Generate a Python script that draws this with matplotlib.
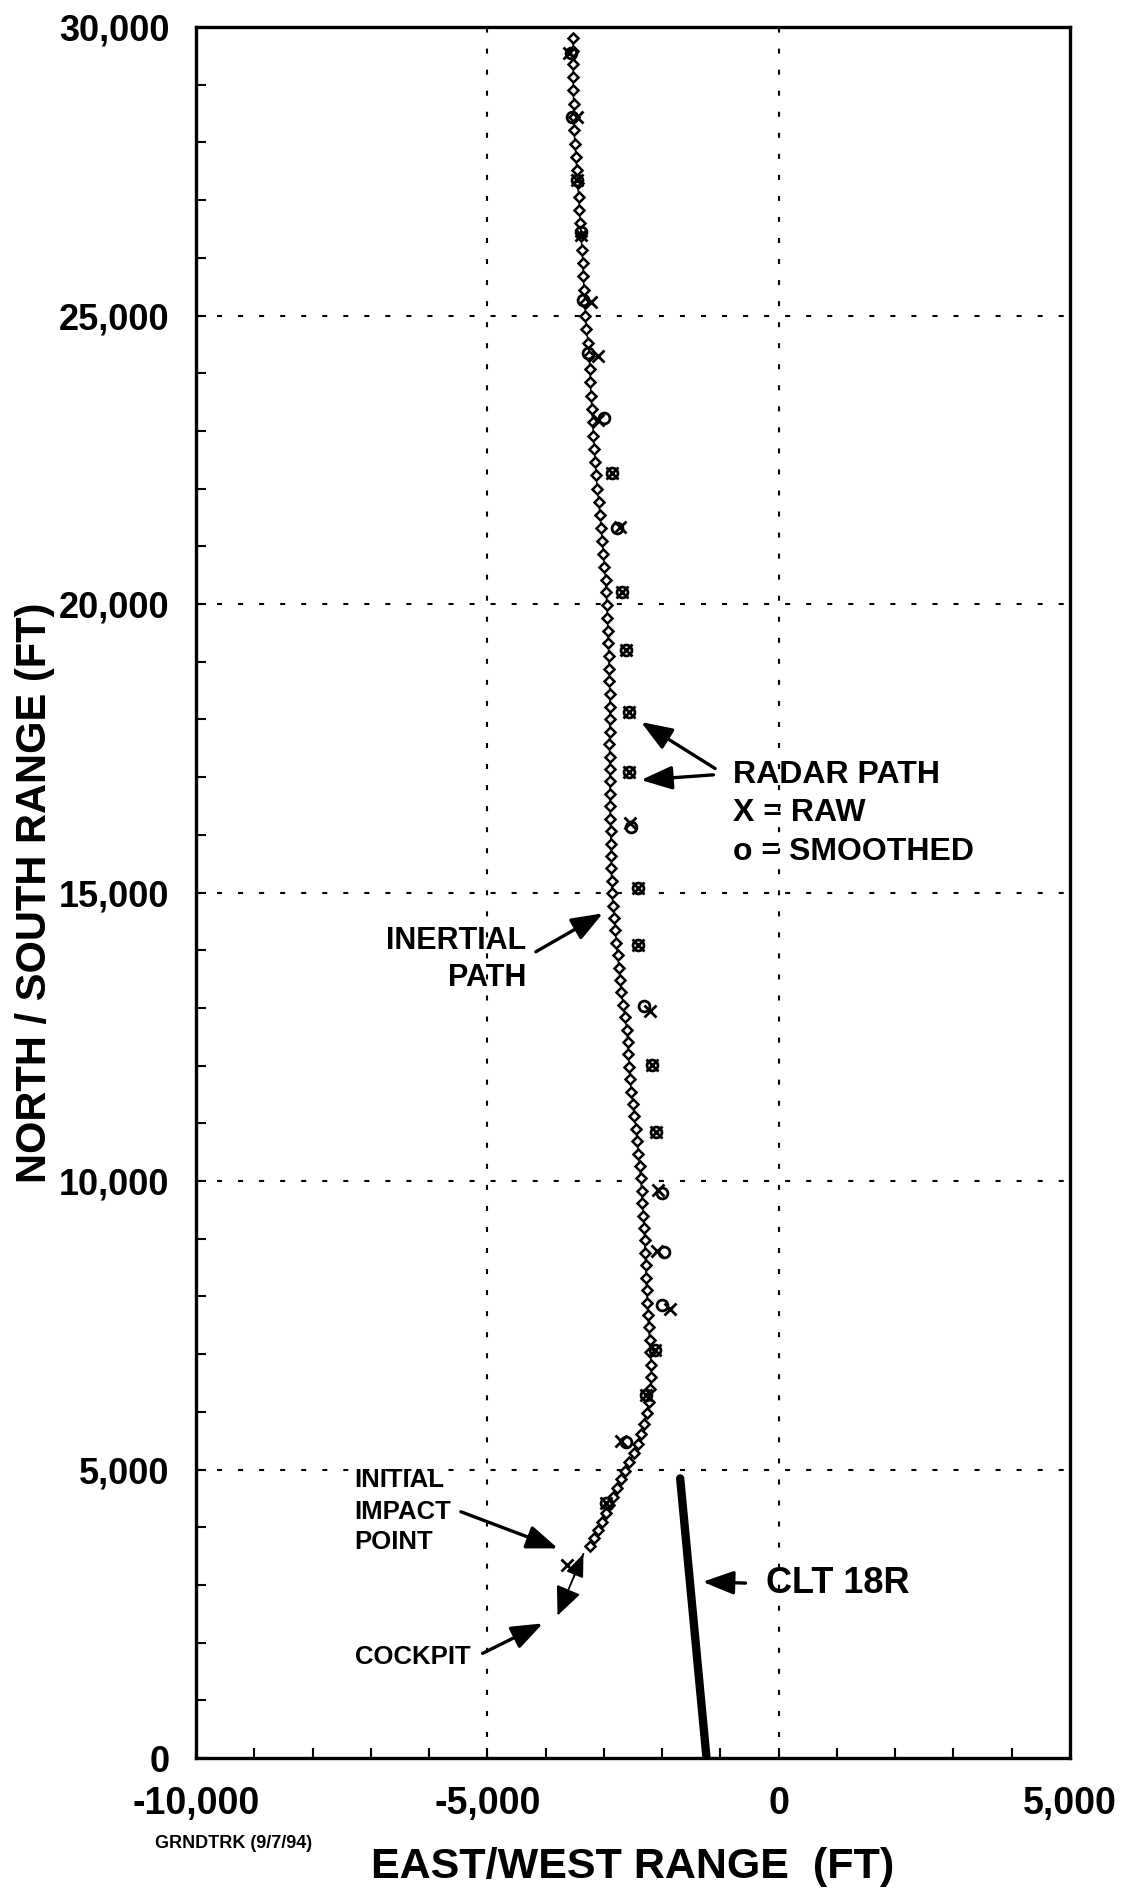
import matplotlib
matplotlib.use("Agg")
import matplotlib.pyplot as plt
from matplotlib.ticker import MultipleLocator

plt.rcParams['font.family'] = ['Liberation Sans', 'DejaVu Sans']
plt.rcParams['font.weight'] = 'bold'

# Inertial ground track (east/west ft, north/south ft)
inertial_y = [29815, 29590, 29360, 29130, 28900, 28670, 28440, 28210, 27980, 27750,
              27520, 27290, 27060, 26830, 26600, 26370, 26140, 25910, 25680, 25450,
              25220, 24990, 24760, 24530, 24300, 24070, 23840, 23610, 23380, 23150,
              22920, 22690, 22460, 22230, 22000, 21775, 21550, 21325, 21100, 20875,
              20650, 20425, 20200, 19980, 19760, 19540, 19320, 19100, 18880, 18660,
              18440, 18220, 18000, 17785, 17570, 17355, 17140, 16925, 16710, 16495,
              16280, 16065, 15850, 15635, 15420, 15205, 14990, 14775, 14560, 14345,
              14130, 13915, 13700, 13485, 13270, 13055, 12840, 12625, 12410, 12195,
              11980, 11765, 11550, 11335, 11120, 10905, 10690, 10475, 10260, 10045,
              9830, 9615, 9400, 9185, 8970, 8755, 8540, 8325, 8110, 7895,
              7680, 7465, 7250, 7035, 6820, 6605, 6390, 6175, 5975, 5790,
              5615, 5445, 5285, 5130, 4980, 4830, 4680, 4530, 4385, 4240,
              4095, 3950, 3810, 3674]
inertial_x = [-3530, -3529, -3528, -3527, -3525, -3520, -3516, -3511, -3496, -3480,
              -3464, -3450, -3434, -3419, -3404, -3389, -3376, -3363, -3351, -3340,
              -3328, -3316, -3299, -3271, -3251, -3242, -3232, -3219, -3206, -3193,
              -3178, -3163, -3148, -3132, -3112, -3090, -3068, -3047, -3029, -3010,
              -2990, -2971, -2960, -2949, -2939, -2931, -2924, -2917, -2910, -2904,
              -2897, -2898, -2900, -2902, -2904, -2902, -2900, -2898, -2896, -2894,
              -2889, -2884, -2880, -2874, -2871, -2868, -2862, -2843, -2824, -2805,
              -2785, -2764, -2743, -2722, -2700, -2669, -2637, -2606, -2591, -2578,
              -2564, -2551, -2526, -2498, -2474, -2447, -2427, -2408, -2388, -2367,
              -2353, -2339, -2324, -2309, -2301, -2293, -2285, -2276, -2266, -2255,
              -2245, -2233, -2216, -2201, -2192, -2187, -2200, -2225, -2262, -2318,
              -2370, -2420, -2490, -2565, -2635, -2700, -2770, -2840, -2905, -2965,
              -3030, -3100, -3170, -3241]

# Radar track, smoothed (o) and raw (x)
smooth_y = [29544, 28445, 27348, 26440, 25268, 24348, 23217, 22265, 21312, 20214,
            19202, 18133, 17093, 16140, 15072, 14090, 13040, 12010, 10855, 9790,
            8764, 7850, 7071, 6291, 5482, 4414]
smooth_x = [-3560, -3547, -3460, -3397, -3357, -3272, -2998, -2853, -2776, -2695,
            -2617, -2576, -2569, -2529, -2416, -2417, -2316, -2179, -2102, -2000,
            -1970, -1997, -2124, -2270, -2617, -2962]
raw_y = [29544, 28445, 27348, 26400, 25230, 24300, 23190, 22265, 21340, 20214,
         19202, 18133, 17093, 16200, 15072, 14090, 12950, 12010, 10855, 9850,
         8790, 7780, 7071, 6291, 5500, 4414, 3345]
raw_x = [-3600, -3460, -3460, -3397, -3212, -3100, -3098, -2853, -2730, -2695,
         -2617, -2576, -2569, -2557, -2416, -2417, -2212, -2179, -2102, -2069,
         -2086, -1864, -2124, -2270, -2703, -2962, -3624]

# Wreckage: initial impact point -> cockpit
impact_xy = (-3350, 3540)
cockpit_xy = (-3795, 2470)

# Runway CLT 18R threshold segment
runway_x = [-1690, -1238]
runway_y = [4847, 0]

x_ticks = [-10000, -5000, 0, 5000]
x_ticklabels = ['-10,000', '-5,000', '0', '5,000']
y_ticks = [0, 5000, 10000, 15000, 20000, 25000, 30000]
y_ticklabels = ['0', '5,000', '10,000', '15,000', '20,000', '25,000', '30,000']

fig = plt.figure(figsize=(11.27, 18.89), dpi=100)
ax = fig.add_axes([0.1739, 0.0693, 0.7755, 0.9164])
ax.set_xlim(-10000, 5000)
ax.set_ylim(0, 30000)

# dotted grid at the interior major values
grid_kw = dict(color='black', lw=1.5, linestyle=(0, (2.4, 7.7)), zorder=1)
for gx in [-5000, 0]:
    ax.axvline(gx, **grid_kw)
for gy in [5000, 10000, 15000, 20000, 25000]:
    ax.axhline(gy, **grid_kw)

ax.plot(runway_x, runway_y, color='black', lw=6, solid_capstyle='round', zorder=3)

ax.plot(inertial_x, inertial_y, color='black', lw=1.0, zorder=4)
ax.plot(inertial_x, inertial_y, linestyle='none', marker='D', ms=5.3,
        mfc='white', mec='black', mew=1.8, zorder=5)
ax.plot(smooth_x, smooth_y, linestyle='none', marker='o', ms=7.8,
        mfc='none', mec='black', mew=2.0, zorder=6)
ax.plot(raw_x, raw_y, linestyle='none', marker='x', ms=8.5,
        mec='black', mew=2.0, zorder=6)

# wreckage path arrows
ax.annotate('', xy=cockpit_xy, xytext=impact_xy,
            arrowprops=dict(arrowstyle='-|>,head_length=0.9,head_width=0.4',
                            mutation_scale=20, lw=1.3, color='black',
                            shrinkA=0, shrinkB=0), zorder=7)
ax.annotate('', xy=impact_xy, xytext=(-3520, 3130),
            arrowprops=dict(arrowstyle='-|>,head_length=0.7,head_width=0.28',
                            mutation_scale=20, lw=1.3, color='black',
                            shrinkA=0, shrinkB=0), zorder=7)

arrow_kw = dict(arrowstyle='-|>,head_length=0.95,head_width=0.36',
                mutation_scale=20, lw=2.4, color='black', shrinkA=0, shrinkB=0)

# RADAR PATH label
ax.text(-776, 17036, 'RADAR PATH', fontsize=23, fontweight='bold', ha='left', va='center')
ax.text(-776, 16378, 'X = RAW', fontsize=23, fontweight='bold', ha='left', va='center')
ax.text(-776, 15702, 'o = SMOOTHED', fontsize=23, fontweight='bold', ha='left', va='center')
ax.annotate('', xy=(-2362, 17955), xytext=(-1090, 17150), arrowprops=arrow_kw)
ax.annotate('', xy=(-2362, 16950), xytext=(-1120, 17040), arrowprops=arrow_kw)

# INERTIAL PATH label
ax.text(-4328, 14165, 'INERTIAL', fontsize=22, fontweight='bold', ha='right', va='center')
ax.text(-4328, 13518, 'PATH', fontsize=22, fontweight='bold', ha='right', va='center')
ax.annotate('', xy=(-3017, 14640), xytext=(-4167, 13974), arrowprops=arrow_kw)

# INITIAL IMPACT POINT label
for txt, yy in [('INITIAL', 4818), ('IMPACT', 4269), ('POINT', 3749)]:
    ax.text(-7276, yy, txt, fontsize=18.5, fontweight='bold', ha='left', va='center')
ax.annotate('', xy=(-3788, 3634), xytext=(-5453, 4269), arrowprops=arrow_kw)

# COCKPIT label
ax.text(-7276, 1756, 'COCKPIT', fontsize=18.5, fontweight='bold', ha='left', va='center')
ax.annotate('', xy=(-4047, 2334), xytext=(-5081, 1815), arrowprops=arrow_kw)

# runway label
ax.text(-224, 3033, 'CLT 18R', fontsize=26, fontweight='bold', ha='left', va='center')
ax.annotate('', xy=(-1305, 3055), xytext=(-569, 3033), arrowprops=arrow_kw)

# axes styling
for s in ax.spines.values():
    s.set_linewidth(2.4)
ax.set_xticks(x_ticks)
ax.set_xticklabels(x_ticklabels)
ax.set_yticks(y_ticks)
ax.set_yticklabels(y_ticklabels)
ax.xaxis.set_minor_locator(MultipleLocator(1000))
ax.yaxis.set_minor_locator(MultipleLocator(1000))
ax.tick_params(axis='both', which='both', direction='in', length=7, width=1.5,
               top=False, right=False)
ax.tick_params(axis='x', which='major', labelsize=27, pad=20)
ax.tick_params(axis='y', which='major', labelsize=26, pad=19)
for lab in ax.get_xticklabels() + ax.get_yticklabels():
    lab.set_fontweight('bold')

ax.set_xlabel('EAST/WEST RANGE  (FT)', fontsize=31, fontweight='bold', labelpad=18)
ax.set_ylabel('NORTH / SOUTH RANGE (FT)', fontsize=30, fontweight='bold', labelpad=3)

fig.text(234 / 1127, 1 - 1843 / 1889, 'GRNDTRK (9/7/94)', fontsize=13,
         fontweight='bold', ha='center', va='center')

fig.savefig('out.png', dpi=100)
